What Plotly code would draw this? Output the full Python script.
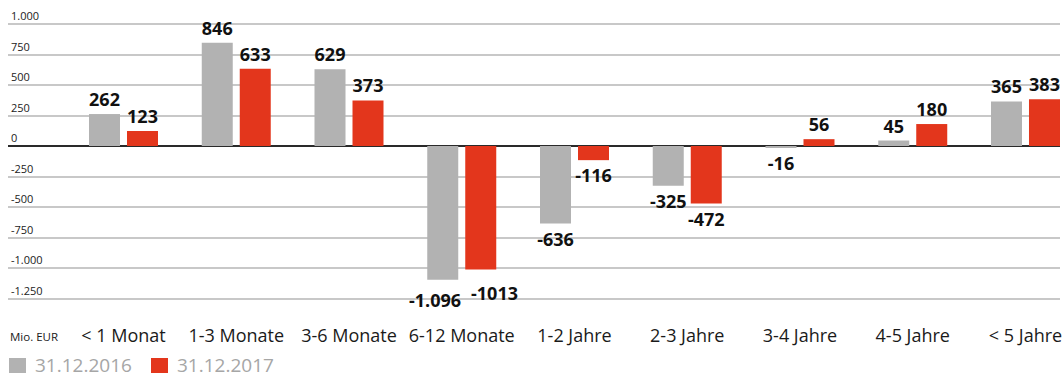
import plotly.graph_objects as go

# Maturity buckets and the two reporting dates (Mio. EUR)
categories = ["< 1 Monat", "1-3 Monate", "3-6 Monate", "6-12 Monate", "1-2 Jahre",
              "2-3 Jahre", "3-4 Jahre", "4-5 Jahre", "< 5 Jahre"]
series_names = ["31.12.2016", "31.12.2017"]
values_2016 = [262, 846, 629, -1096, -636, -325, -16, 45, 365]
values_2017 = [123, 633, 373, -1013, -116, -472, 56, 180, 383]
labels_2016 = ["262", "846", "629", "-1.096", "-636", "-325", "-16", "45", "365"]
labels_2017 = ["123", "633", "373", "-1013", "-116", "-472", "56", "180", "383"]
y_tickvals = [1000, 750, 500, 250, 0, -250, -500, -750, -1000, -1250]
y_ticktext = ["1.000", "750", "500", "250", "0", "-250", "-500", "-750", "-1.000", "-1.250"]

GREY = "#b2b2b2"
RED = "#e3361c"
GRID = "#c8c8c8"
FONT = "Open Sans"
LABEL_FONT = dict(family=FONT, size=18, color="#111111", weight="bold")

W, H = 1063, 373
ML, MR, MT, MB = 8, 3, 0, 72
PW, PH = W - ML - MR, H - MT - MB
PX_PER_UNIT = 0.122  # vertical pixels per Mio. EUR
WIDE_BUCKET = "6-12 Monate"  # its two long labels get placed apart by hand


def px_x(px):
    return (px - ML) / PW


def px_y(py):
    return (H - MB - py) / PH


fig = go.Figure()
for name, vals, labels, color in [
    (series_names[0], values_2016, labels_2016, GREY),
    (series_names[1], values_2017, labels_2017, RED),
]:
    bar_text = ["" if c == WIDE_BUCKET else t for c, t in zip(categories, labels)]
    fig.add_trace(go.Bar(
        x=categories, y=vals, name=name, marker=dict(color=color, line=dict(width=0)),
        text=bar_text, texttemplate="%{text}", textposition="outside",
        textfont=LABEL_FONT, constraintext="none", cliponaxis=False, showlegend=False,
    ))

shapes = []
annotations = []

# labels of the 6-12 bucket, pushed apart below their bars
i = categories.index(WIDE_BUCKET)
for vals, labels, xshift, yshift in [(values_2016, labels_2016, -27, -6),
                                     (values_2017, labels_2017, 33, -9)]:
    annotations.append(dict(text=labels[i], x=WIDE_BUCKET, y=vals[i], xref="x", yref="y",
                            xshift=xshift, yshift=yshift, xanchor="center", yanchor="top",
                            showarrow=False, font=LABEL_FONT))

# legend drawn as swatches plus text below the axis labels
legend_items = [(series_names[0], GREY, 9), (series_names[1], RED, 151)]
for name, color, x0 in legend_items:
    shapes.append(dict(type="rect", xref="paper", yref="paper",
                       x0=px_x(x0), x1=px_x(x0 + 17), y0=px_y(373), y1=px_y(358),
                       fillcolor=color, line=dict(width=0)))
    annotations.append(dict(text=name, xref="paper", yref="paper", x=px_x(x0 + 24),
                            y=px_y(364.5), xanchor="left", yanchor="middle", showarrow=False,
                            font=dict(family=FONT, size=19, color="#a6a6a6")))

annotations.append(dict(text="Mio. EUR", xref="paper", yref="paper", x=px_x(8), y=px_y(337),
                        xanchor="left", yanchor="middle", showarrow=False,
                        font=dict(family=FONT, size=11.5, color="#1a1a1a")))

# 1000 sits at y=24 px, -1250 at y=298.5 px
y_top = 1000 + 24 / PX_PER_UNIT
y_bottom = -1250 - (H - MB - 298.5) / PX_PER_UNIT

fig.update_layout(
    width=W, height=H,
    margin=dict(l=ML, r=MR, t=MT, b=MB, pad=0),
    paper_bgcolor="white", plot_bgcolor="white",
    barmode="group", bargap=0.326, bargroupgap=0.184,
    shapes=shapes, annotations=annotations,
    font=dict(family=FONT),
    xaxis=dict(
        type="category", range=[-1.0244, 8.306],
        showgrid=False, zeroline=False, showline=False, ticks="",
        tickfont=dict(family=FONT, size=18, color="#1a1a1a"),
        ticklabelstandoff=22,
    ),
    yaxis=dict(
        range=[y_bottom, y_top],
        tickmode="array", tickvals=y_tickvals, ticktext=y_ticktext,
        ticklabelposition="inside top", ticks="",
        tickfont=dict(family=FONT, size=11, color="#222222"),
        showgrid=True, gridcolor=GRID, gridwidth=2,
        zeroline=True, zerolinecolor="#2a2a2a", zerolinewidth=2,
        showline=False,
    ),
)

fig.write_html("out.html")
